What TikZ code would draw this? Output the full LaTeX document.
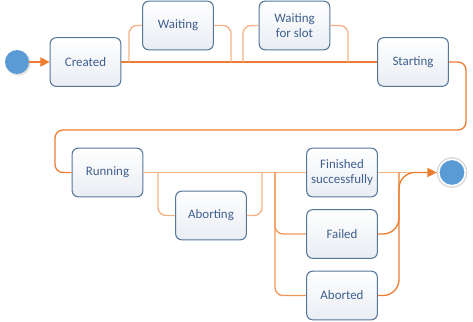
\documentclass[tikz,border=0pt]{standalone}
\usepackage{fontspec}
\setmainfont{Carlito}
\usepackage{tikz}
\usetikzlibrary{arrows.meta,positioning,shadows}

\definecolor{flow}{HTML}{ED7D31}
\definecolor{flowlight}{HTML}{F4B183}
\definecolor{boxline}{HTML}{56769C}
\definecolor{boxfill}{HTML}{E9EDF3}
\definecolor{boxtext}{HTML}{3F5F8F}
\definecolor{dot}{HTML}{5B9BD5}

\begin{document}
\begin{tikzpicture}[
  x=0.75pt, y=-0.75pt,
  >={Triangle[length=7pt,width=7pt]},
  state/.style={draw=boxline, line width=0.8pt, rounded corners=4.5pt, minimum width=53pt, minimum height=36.5pt, inner sep=1pt, align=center, top color=white, bottom color=boxfill, text=boxtext, font=\fontsize{9.7}{11.5}\selectfont},
  wire/.style={draw=flow, line width=1pt, rounded corners=6pt},
  sideline/.style={draw=flowlight, line width=1pt, rounded corners=6pt},
  pseudo/.style={circle, fill=dot, inner sep=0pt}
]
\useasboundingbox (0,0) rectangle (473,321);

% states
\node[pseudo, minimum size=18pt, circular drop shadow={opacity=0.25, shadow xshift=0.6pt, shadow yshift=-0.6pt}] (init) at (17,62) {};
\node[state] (created) at (85.5,62) {Created};
\node[state] (waiting) at (178,25.5) {Waiting};
\node[state] (slot) at (294.5,25.5) {Waiting\\for slot};
\node[state] (starting) at (413,62) {Starting};
\node[state] (running) at (107.5,172.5) {Running};
\node[state] (aborting) at (211,215.5) {Aborting};
\node[state] (finished) at (342,172.5) {Finished\\successfully};
\node[state] (failed) at (342,234) {Failed};
\node[state] (aborted) at (342,295.5) {Aborted};
\node[circle, draw=gray!30, line width=1pt, fill=white, inner sep=0pt, minimum size=22pt] (ring) at (452,172.5) {};
\node[pseudo, minimum size=18.5pt] (final) at (452,172.5) {};

% bends
\coordinate (waitL) at (129,62);
\coordinate (waitR) at (231,62);
\coordinate (slotL) at (243,62);
\coordinate (slotR) at (348,62);
\coordinate (turnR) at (466,130);
\coordinate (turnL) at (55,130);
\coordinate (abortL) at (158,172.5);
\coordinate (abortR) at (262,172.5);
\coordinate (split) at (275,172.5);
\coordinate (merge) at (399,172.5);

% transitions
\draw[wire, ->] (init) -- (created);
\draw[wire] (created) -- (starting);
\draw[sideline] (waitL) |- (waiting.west);
\draw[sideline] (waiting.east) -| (waitR);
\draw[sideline] (slotL) |- (slot.west);
\draw[sideline] (slot.east) -| (slotR);
\draw[wire] (starting.east) -| (turnR) -- (turnL) |- (running.west);
\draw[sideline] (running.east) -- (finished.west);
\draw[sideline] (abortL) |- (aborting.west);
\draw[sideline] (aborting.east) -| (abortR);
\draw[wire, draw=flow!80] (split) |- (failed.west);
\draw[wire, draw=flow!80] (split) |- (aborted.west);
\draw[sideline] (finished.east) -- (ring.west);
\draw[wire, ->, rounded corners=12pt] (failed.east) -| (merge) -- (ring.west);
\draw[wire, rounded corners=12pt] (aborted.east) -| (merge);
\end{tikzpicture}
\end{document}
